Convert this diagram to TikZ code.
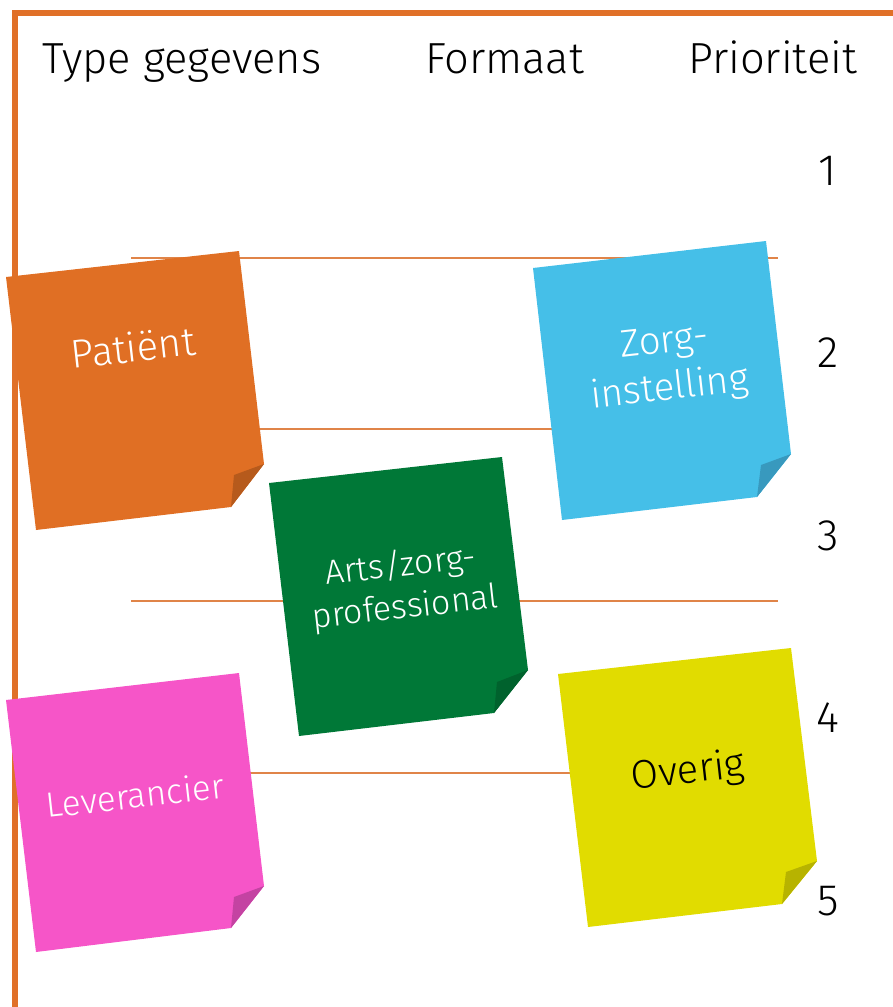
\documentclass[tikz,border=0pt]{standalone}
\usepackage{fontspec}
\setmainfont{Fira Sans}[UprightFont=* Light]
\definecolor{frame}{HTML}{E07028}
\definecolor{rule}{HTML}{E08448}
\definecolor{nOrange}{HTML}{E06F24}
\definecolor{fOrange}{HTML}{B65A1C}
\definecolor{nBlue}{HTML}{45BFE8}
\definecolor{fBlue}{HTML}{3899BE}
\definecolor{nGreen}{HTML}{007837}
\definecolor{fGreen}{HTML}{00622D}
\definecolor{nPink}{HTML}{F655C8}
\definecolor{fPink}{HTML}{C443A2}
\definecolor{nYellow}{HTML}{E1DC00}
\definecolor{fYellow}{HTML}{B7B300}
\tikzset{
  header/.style={anchor=base west,font=\fontsize{43.5}{52}\selectfont,inner sep=0pt},
  prio/.style={anchor=base,font=\fontsize{44}{52}\selectfont,inner sep=0pt},
  rowline/.style={draw=rule,line width=1.2pt},
  notetext/.style={align=center,inner sep=0pt,rotate=6.4},
}
\newcommand{\stickynote}[8]{%
  % #1 fill, #2 fold colour, #3 TL, #4 TR, #5 R fold start, #6 fold bottom, #7 BL, #8 fold inner
  \fill[#1] #3 -- #4 -- #5 -- #6 -- #7 -- cycle;
  \fill[#2] #5 -- #8 -- #6 -- cycle;
}
\begin{document}
\begin{tikzpicture}[x=1pt,y=-1pt]
\useasboundingbox (0,0) rectangle (892,1007);
% frame
\draw[frame,line width=6pt] (15,1010) -- (15,13) -- (895,13);
% headers
\node[header] (h1) at (42,73) {Type gegevens};
\node[header] (h2) at (425,73) {Formaat};
\node[header] (h3) at (688,73) {Prioriteit};
% priorities
\node[prio] (p1) at (828,185) {1};
\node[prio] (p2) at (828,367.5) {2};
\node[prio] (p3) at (828,550) {3};
\node[prio] (p4) at (828,732.5) {4};
\node[prio] (p5) at (828,915) {5};
% row lines
\foreach \yy in {258,429,601,773}{\draw[rowline] (131,\yy) -- (778,\yy);}
% notes
\stickynote{nOrange}{fOrange}{(6,277)}{(239,251)}{(264,464)}{(231,507)}{(36,530)}{(234,475)}
\stickynote{nBlue}{fBlue}{(533,268)}{(766,241)}{(791,454)}{(757,497)}{(562,520)}{(761,465)}
\stickynote{nGreen}{fGreen}{(269,483)}{(502,457)}{(528,670)}{(494,713)}{(299,736)}{(497,682)}
\stickynote{nPink}{fPink}{(6,700)}{(239,673)}{(264,886)}{(231,928)}{(36,952)}{(234,897)}
\stickynote{nYellow}{fYellow}{(558,674)}{(791,648)}{(817,861)}{(782,904)}{(588,927)}{(786,872)}
% note texts
\node[notetext,text=white,font=\fontsize{40}{48}\selectfont] (t1) at (133,347) {Patiënt};
\node[notetext,text=white,font=\fontsize{38.5}{47}\selectfont] (t2) at (667,367) {Zorg-\\instelling};
\node[notetext,text=white,font=\fontsize{34}{42}\selectfont] (t3) at (403,587) {Arts/zorg-\\professional};
\node[notetext,text=white,font=\fontsize{35}{42}\selectfont] (t4) at (135,795) {Leverancier};
\node[notetext,text=black,font=\fontsize{40}{48}\selectfont] (t5) at (688,772) {Overig};
\end{tikzpicture}
\end{document}
